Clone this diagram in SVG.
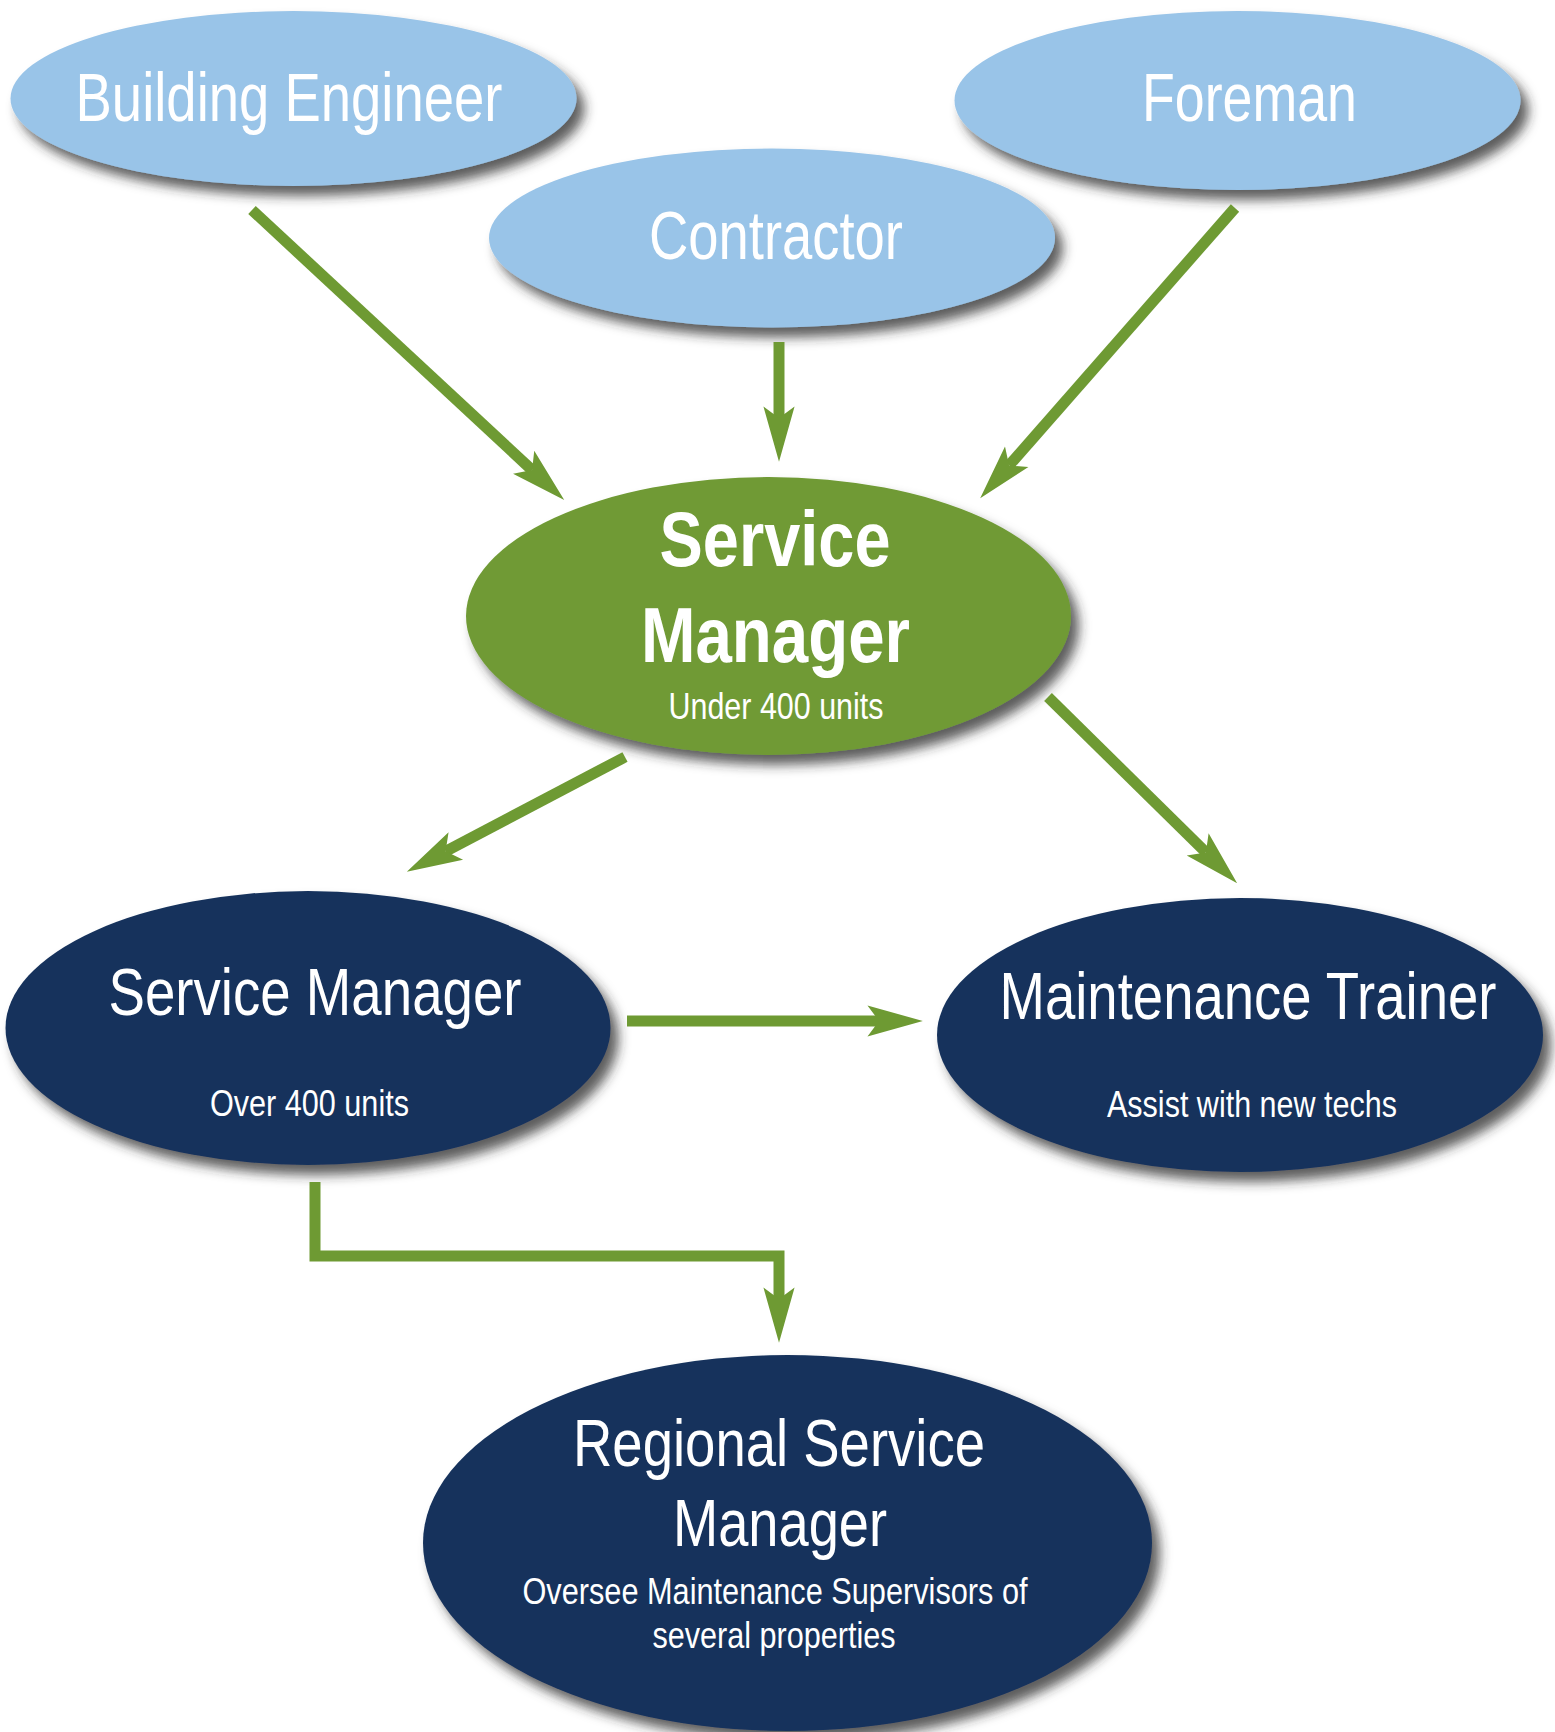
<svg xmlns="http://www.w3.org/2000/svg" width="1555" height="1732" viewBox="0 0 1555 1732">
<defs>
<filter id="shadow" x="-10%" y="-10%" width="125%" height="130%">
<feGaussianBlur in="SourceAlpha" stdDeviation="6"/>
<feOffset dx="8" dy="10" result="b"/>
<feFlood flood-color="#2a2a2a" flood-opacity="0.75"/>
<feComposite in2="b" operator="in"/>
<feMerge><feMergeNode/><feMergeNode in="SourceGraphic"/></feMerge>
</filter>
<marker id="ah" markerUnits="userSpaceOnUse" markerWidth="60" markerHeight="40" viewBox="-12 -16 52 32" refX="0" refY="0" orient="auto">
<path d="M38,0 L-10,-13.5 L0,0 L-10,13.5 Z" fill="#6E9A33"/>
</marker>
</defs>
<style>
.light{fill:#99C4E8}
.green{fill:#6F9A35}
.navy{fill:#15325C}
.t{font-family:"Liberation Sans Narrow","Liberation Sans",Arial,sans-serif;fill:#ffffff;text-anchor:middle}
.conn{fill:none;stroke:#6E9A33;stroke-width:11;marker-end:url(#ah)}
</style>
<rect width="1555" height="1732" fill="#ffffff"/>

<g id="building-engineer">
<ellipse class="light" cx="293.5" cy="98.5" rx="283" ry="87.5" filter="url(#shadow)"/>
<text class="t" x="289" y="121" font-size="68" textLength="427" lengthAdjust="spacingAndGlyphs">Building Engineer</text>
</g>

<g id="foreman">
<ellipse class="light" cx="1237.5" cy="100.5" rx="283" ry="89.5" filter="url(#shadow)"/>
<text class="t" x="1249.5" y="121" font-size="68" textLength="215" lengthAdjust="spacingAndGlyphs">Foreman</text>
</g>

<g id="contractor">
<ellipse class="light" cx="772" cy="238" rx="283" ry="89.5" filter="url(#shadow)"/>
<text class="t" x="776" y="259" font-size="68" textLength="254" lengthAdjust="spacingAndGlyphs">Contractor</text>
</g>

<g id="service-manager-under">
<ellipse class="green" cx="768.5" cy="616" rx="302.5" ry="139" filter="url(#shadow)"/>
<text class="t" x="775" y="566" font-size="78" font-weight="bold" textLength="231" lengthAdjust="spacingAndGlyphs">Service</text>
<text class="t" x="775.5" y="662" font-size="78" font-weight="bold" textLength="269" lengthAdjust="spacingAndGlyphs">Manager</text>
<text class="t" x="776" y="719" font-size="37" textLength="215" lengthAdjust="spacingAndGlyphs">Under 400 units</text>
</g>

<g id="service-manager-over">
<ellipse class="navy" cx="308" cy="1028" rx="302.5" ry="137" filter="url(#shadow)"/>
<text class="t" x="315" y="1015" font-size="67" textLength="413" lengthAdjust="spacingAndGlyphs">Service Manager</text>
<text class="t" x="309.5" y="1116" font-size="37" textLength="199" lengthAdjust="spacingAndGlyphs">Over 400 units</text>
</g>

<g id="maintenance-trainer">
<ellipse class="navy" cx="1240" cy="1035" rx="303" ry="137" filter="url(#shadow)"/>
<text class="t" x="1248" y="1019" font-size="67" textLength="497" lengthAdjust="spacingAndGlyphs">Maintenance Trainer</text>
<text class="t" x="1252" y="1117" font-size="37" textLength="290" lengthAdjust="spacingAndGlyphs">Assist with new techs</text>
</g>

<g id="regional-service-manager">
<ellipse class="navy" cx="787.5" cy="1543" rx="364.5" ry="188" filter="url(#shadow)"/>
<text class="t" x="779" y="1466" font-size="67" textLength="412" lengthAdjust="spacingAndGlyphs">Regional Service</text>
<text class="t" x="780" y="1546" font-size="67" textLength="214" lengthAdjust="spacingAndGlyphs">Manager</text>
<text class="t" x="775" y="1604" font-size="36" textLength="505" lengthAdjust="spacingAndGlyphs">Oversee Maintenance Supervisors of</text>
<text class="t" x="774" y="1648" font-size="36" textLength="243" lengthAdjust="spacingAndGlyphs">several properties</text>
</g>

<g id="connectors">
<path class="conn" d="M252,210 L532.1,470.1"/>
<path class="conn" d="M779,342 L779,418"/>
<path class="conn" d="M1235,208 L1009.1,465.4"/>
<path class="conn" d="M625,757 L445.6,851.3"/>
<path class="conn" d="M1048,697 L1205.9,852.4"/>
<path class="conn" d="M627,1021 L879,1021"/>
<path class="conn" d="M315,1182 L315,1256 L779,1256 L779,1299"/>
</g>
</svg>
